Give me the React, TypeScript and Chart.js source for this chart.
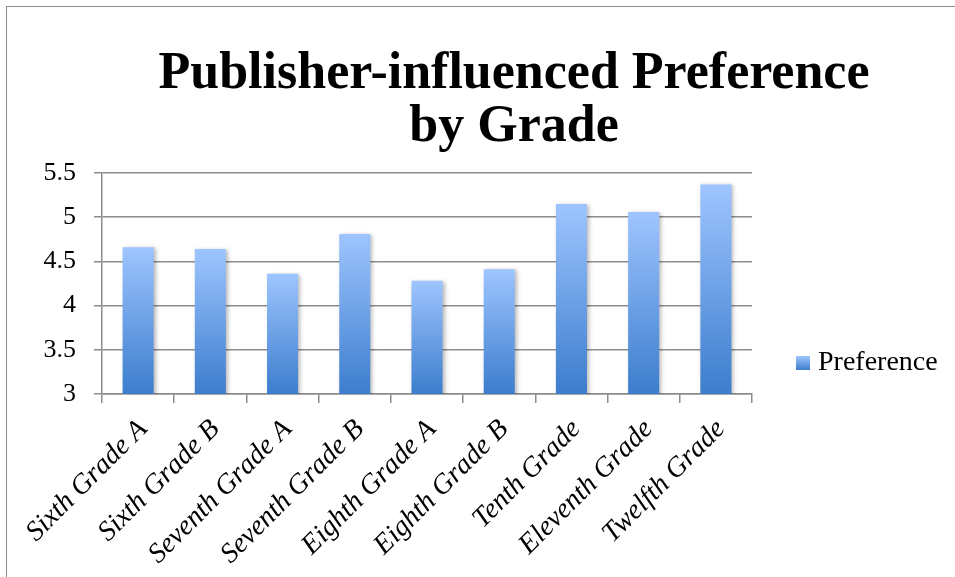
import React, { useEffect, useRef } from "react";
import { Chart, registerables } from "chart.js";

Chart.register(...registerables);

const categories = [
  "Sixth Grade A",
  "Sixth Grade B",
  "Seventh Grade A",
  "Seventh Grade B",
  "Eighth Grade A",
  "Eighth Grade B",
  "Tenth Grade",
  "Eleventh Grade",
  "Twelfth Grade",
];
const seriesName = "Preference";
const preferenceValues = [4.66, 4.64, 4.36, 4.81, 4.28, 4.41, 5.15, 5.06, 5.37];
const titleLines = ["Publisher-influenced Preference", "by Grade"];
const yMin = 3;
const yMax = 5.5;
const yStep = 0.5;

const TOP_COLOR = "#9ec5ff";
const BOTTOM_COLOR = "#3c7dcd";
const GRID_COLOR = "#8c8c8c";

const titlePlugin = {
  id: "customTitle",
  afterDraw(chart: any) {
    const ctx = chart.ctx;
    ctx.save();
    ctx.fillStyle = "#000";
    ctx.font = "bold 52px 'Liberation Serif'";
    ctx.textAlign = "center";
    ctx.textBaseline = "alphabetic";
    ctx.fillText(titleLines[0], 514, 88);
    ctx.fillText(titleLines[1], 514, 141);
    ctx.restore();
  },
};

const legendPlugin = {
  id: "customLegend",
  afterDraw(chart: any) {
    const ctx = chart.ctx;
    ctx.save();
    const x = 796;
    const y = 356;
    const s = 14;
    const g = ctx.createLinearGradient(0, y, 0, y + s);
    g.addColorStop(0, TOP_COLOR);
    g.addColorStop(1, BOTTOM_COLOR);
    ctx.fillStyle = g;
    ctx.fillRect(x, y, s, s);
    ctx.fillStyle = "#000";
    ctx.font = "28px 'Liberation Serif'";
    ctx.textAlign = "left";
    ctx.textBaseline = "middle";
    ctx.fillText(chart.data.datasets[0].label, 818, 363);
    ctx.restore();
  },
};

const shadowPlugin = {
  id: "barShadow",
  beforeDatasetsDraw(chart: any) {
    const ctx = chart.ctx;
    ctx.save();
    ctx.shadowColor = "rgba(0,0,0,0.28)";
    ctx.shadowBlur = 4;
    ctx.shadowOffsetX = 2;
    ctx.shadowOffsetY = 1;
  },
  afterDatasetsDraw(chart: any) {
    chart.ctx.restore();
  },
};

export default function App() {
  const canvasRef = useRef<HTMLCanvasElement | null>(null);

  useEffect(() => {
    if (!canvasRef.current) return;
    const chart = new Chart(canvasRef.current, {
      type: "bar",
      data: {
        labels: categories,
        datasets: [
          {
            label: seriesName,
            data: preferenceValues,
            backgroundColor: (c: any) => {
              const ch = c.chart;
              const area = ch.chartArea;
              if (!area || !ch.scales.y || c.parsed == null) return BOTTOM_COLOR;
              const top = ch.scales.y.getPixelForValue(c.parsed.y);
              const bottom = area.bottom;
              if (!isFinite(top) || bottom - top < 1) return BOTTOM_COLOR;
              const g = ch.ctx.createLinearGradient(0, top, 0, bottom);
              g.addColorStop(0, TOP_COLOR);
              g.addColorStop(1, BOTTOM_COLOR);
              return g;
            },
            borderWidth: 0,
            barPercentage: 0.43,
            categoryPercentage: 1,
          },
        ],
      },
      options: {
        animation: false,
        responsive: false,
        maintainAspectRatio: false,
        layout: { padding: { top: 173, right: 203, bottom: 0, left: 0 } },
        plugins: {
          legend: { display: false },
          title: { display: false },
          tooltip: { enabled: false },
        },
        scales: {
          x: {
            afterFit: (s: any) => {
              s.height = 183;
            },
            grid: {
              display: true,
              offset: true,
              drawOnChartArea: false,
              drawTicks: true,
              tickLength: 9,
              color: GRID_COLOR,
              lineWidth: 1.5,
            },
            border: { display: true, color: GRID_COLOR, width: 1.5 },
            ticks: {
              minRotation: 45,
              maxRotation: 45,
              autoSkip: false,
              color: "#000",
              padding: 10,
              labelOffset: 5,
              font: { family: "'Liberation Serif'", size: 28, style: "italic" },
            },
          },
          y: {
            min: yMin,
            max: yMax,
            afterFit: (s: any) => {
              s.width = 102;
            },
            grid: {
              display: true,
              drawTicks: true,
              tickLength: 8,
              color: GRID_COLOR,
              lineWidth: 1.5,
            },
            border: { display: true, color: GRID_COLOR, width: 1.5 },
            ticks: {
              stepSize: yStep,
              color: "#000",
              padding: 18,
              font: { family: "'Liberation Serif'", size: 26 },
              callback: (v: any) => String(Number(v)),
            },
          },
        },
      },
      plugins: [shadowPlugin, titlePlugin, legendPlugin],
    });
    return () => chart.destroy();
  }, []);

  return (
    <div
      style={{
        position: "fixed",
        left: 0,
        top: 0,
        width: 955,
        height: 577,
        overflow: "hidden",
        background: "#fff",
      }}
    >
      <div
        style={{
          position: "absolute",
          left: 6,
          top: 6,
          width: 1000,
          height: 1000,
          border: "1.5px solid #8c8c8c",
        }}
      />
      <canvas
        ref={canvasRef}
        width={955}
        height={577}
        style={{ position: "absolute", left: 0, top: 0, width: 955, height: 577 }}
      />
    </div>
  );
}
